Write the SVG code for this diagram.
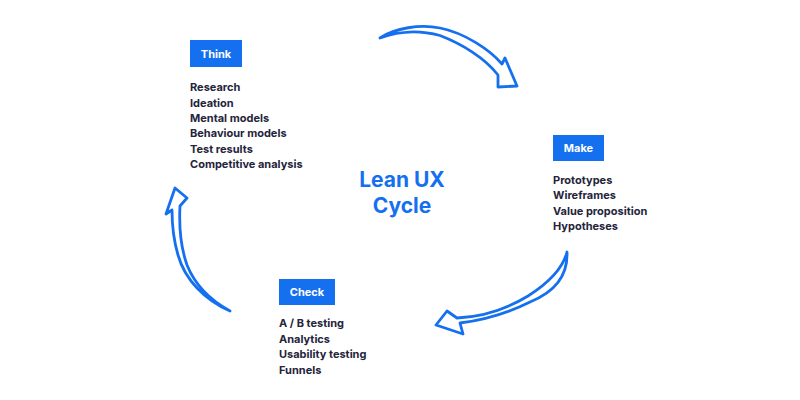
<svg xmlns="http://www.w3.org/2000/svg" width="800" height="400" viewBox="0 0 800 400">
<style>
.box{fill:#1570ef}
.lbl{font-family:Inter,"Noto Sans","Liberation Sans",sans-serif;font-weight:700;font-size:11px;fill:#ffffff;text-anchor:middle}
.item{font-family:Inter,"Noto Sans","Liberation Sans",sans-serif;font-weight:700;font-size:11px;fill:#24243a}
.title{font-family:Inter,"Noto Sans","Liberation Sans",sans-serif;font-weight:700;font-size:21px;fill:#1570ef;text-anchor:middle}
.arrow{fill:#ffffff;stroke:#1570ef;stroke-width:2.8;stroke-linejoin:round;stroke-linecap:round}
</style>
<rect width="800" height="400" fill="#ffffff"/>
<g id="connectors">
<path class="arrow" d="M380,38 C395,28 420,24 440,28 C465,33 490,50 502,64 L505,58 L517,86 L498,87 L498,75 C485,58 462,44 440,35.5 C420,30 398,31 380,38 Z"/>
<path class="arrow" d="M567,252 C568,275 555,292 530,302 C510,312 485,320 460,323 L463,334 L436,325 L447,311 L457,318 C480,317 505,310 528,296 C550,282 563,268 567,252 Z"/>
<path class="arrow" d="M230,311 C205,300 185,280 178,255 C173,238 172,222 172,210 L166,214 L175,188 L187,198 L180,206 C179,225 180,245 187,265 C195,285 210,300 230,311 Z"/>
</g>
<g id="think">
<rect class="box" x="190" y="40" width="52" height="27"/>
<text class="lbl" x="216" y="57.5">Think</text>
<text class="item" x="190" y="91">Research</text>
<text class="item" x="190" y="106.5">Ideation</text>
<text class="item" x="190" y="122">Mental models</text>
<text class="item" x="190" y="137.3">Behaviour models</text>
<text class="item" x="190" y="152.7">Test results</text>
<text class="item" x="190" y="168">Competitive analysis</text>
</g>
<g id="make">
<rect class="box" x="553" y="135" width="51" height="26"/>
<text class="lbl" x="578.5" y="152">Make</text>
<text class="item" x="553" y="183.5">Prototypes</text>
<text class="item" x="553" y="199">Wireframes</text>
<text class="item" x="553" y="214.5">Value proposition</text>
<text class="item" x="553" y="230">Hypotheses</text>
</g>
<g id="check">
<rect class="box" x="279" y="279" width="56" height="26"/>
<text class="lbl" x="307" y="296">Check</text>
<text class="item" x="279" y="327">A / B testing</text>
<text class="item" x="279" y="342.5">Analytics</text>
<text class="item" x="279" y="358">Usability testing</text>
<text class="item" x="279" y="373.5">Funnels</text>
</g>
<g id="center">
<text class="title" x="402" y="187.3">Lean UX</text>
<text class="title" x="402" y="213.3">Cycle</text>
</g>
</svg>
